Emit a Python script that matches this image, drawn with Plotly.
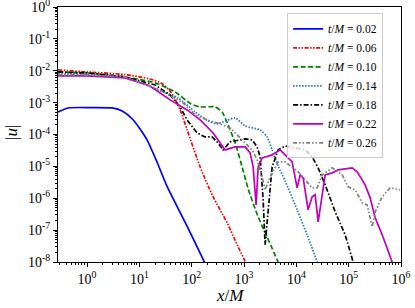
import plotly.graph_objects as go

# ---- data ----
labels = ["0.02", "0.06", "0.10", "0.14", "0.18", "0.22", "0.26"]

x_002 = [0.28, 0.43, 1.14, 3.0, 4.7, 7.6, 14, 22, 34, 53, 82, 127, 180]
y_002 = [5.1e-4, 6.8e-4, 7.0e-4, 6.8e-4, 5.5e-4, 2.9e-4, 6.8e-5, 1.3e-5, 2.3e-6, 5.4e-7, 1.3e-7, 3.0e-8, 9e-9]

x_006 = [0.28, 1, 5.3, 16, 26, 40, 60, 82, 145, 257, 475, 771, 1100]
y_006 = [1.06e-2, 9.2e-3, 7.6e-3, 5.5e-3, 4.15e-3, 2.16e-3, 5.9e-4, 1.39e-4, 9.6e-6, 1.1e-6, 1.7e-7, 3.0e-8, 9e-9]

x_010 = [0.28, 1, 5.3, 20, 48, 97.5, 145, 280, 381, 497, 676, 920, 1201, 1862, 2755, 4487]
y_010 = [9.17e-3, 8.53e-3, 6.39e-3, 4.15e-3, 2.16e-3, 9.1e-4, 7.33e-4, 7.33e-4, 5.11e-4, 2.0e-4, 5.45e-5,
         9.64e-6, 1.97e-6, 2.61e-7, 6.17e-8, 1.0e-8]

x_014 = [0.28, 1, 5.3, 22.8, 55, 116, 206, 306, 676, 1050, 2032, 2755, 3444, 4487, 6109, 10350, 16080, 24990]
y_014 = [7.94e-3, 7.94e-3, 6.39e-3, 2.50e-3, 1.40e-3, 5.11e-4, 2.67e-4, 2.15e-4, 3.31e-4, 1.86e-4, 1.39e-4,
         8.41e-5, 3.29e-5, 1.04e-5, 3.51e-6, 4.33e-7, 7.12e-8, 1.0e-8]

x_018 = [0.28, 1, 5.3, 20, 38.6, 60, 81.7, 127, 180, 245, 320, 398, 542, 1050, 1429, 1780, 2032, 2318,
         2531, 2755, 3444, 4487, 6109, 9484, 14730, 20050, 26120, 35560, 55200, 85700, 121900]
y_018 = [9.17e-3, 8.53e-3, 6.39e-3, 3.59e-3, 1.74e-3, 7.33e-4, 2.87e-4, 1.12e-4, 8.41e-5, 8.41e-5, 5.45e-5,
         3.29e-5, 5.86e-5, 7.28e-5, 6.78e-5, 4.09e-5, 1.99e-5, 8.91e-7, 3.46e-8, 1.69e-7, 9.64e-6, 3.29e-5,
         4.39e-5, 3.80e-5, 3.29e-5, 1.99e-5, 8.97e-6, 2.63e-6, 3.75e-7, 7.12e-8, 1.0e-8]

x_022 = [0.28, 1, 5.3, 16, 38.6, 81.7, 145, 257, 435, 676, 1050, 1309, 1494, 1703, 1862, 2218, 3444, 4898,
         6109, 8318, 10350, 11830, 13490, 16810, 20050, 22870, 26120, 31150, 35560, 48420, 63000, 116700,
         145500, 206600, 257600, 321300, 437100, 678900]
y_022 = [6.87e-3, 6.87e-3, 5.95e-3, 3.34e-3, 1.22e-3, 5.90e-4, 2.87e-4, 1.12e-4, 3.29e-5, 4.09e-5, 4.09e-5,
         2.65e-5, 9.64e-6, 6.21e-7, 9.64e-6, 1.85e-5, 2.29e-5, 3.29e-5, 2.29e-5, 1.38e-5, 2.12e-6, 5.42e-6,
         4.36e-6, 4.33e-7, 1.11e-6, 1.28e-6, 1.82e-7, 1.59e-6, 5.42e-6, 6.25e-6, 7.76e-6, 8.97e-6, 6.73e-6,
         2.63e-6, 1.03e-6, 2.43e-7, 7.12e-8, 1.0e-8]

x_026 = [0.28, 1, 5.3, 22.8, 68.5, 116, 197, 306, 542, 920, 1429, 1780, 2218, 2531, 3155, 4487, 6109, 10820,
         20050, 24990, 31150, 48420, 75100, 97800, 133100, 181300, 225700, 281300, 321300, 437100, 621300, 966000]
y_026 = [7.39e-3, 7.39e-3, 6.39e-3, 2.69e-3, 9.8e-4, 4.11e-4, 2.87e-4, 2.31e-4, 1.61e-4, 6.78e-5, 3.29e-5,
         1.60e-5, 4.69e-6, 1.83e-6, 4.69e-6, 1.38e-5, 1.38e-5, 6.73e-6, 2.12e-6, 2.12e-6, 5.42e-6, 8.97e-6,
         5.42e-6, 2.28e-6, 1.83e-6, 7.18e-7, 6.21e-7, 1.27e-7, 3.75e-7, 1.11e-6, 2.12e-6, 1.83e-6]

x_ticks = [1, 10, 100, 1e3, 1e4, 1e5, 1e6]
x_ticktext = ["10<sup>0</sup>", "10<sup>1</sup>", "10<sup>2</sup>", "10<sup>3</sup>",
              "10<sup>4</sup>", "10<sup>5</sup>", "10<sup>6</sup>"]
y_ticks = [1e-8, 1e-7, 1e-6, 1e-5, 1e-4, 1e-3, 1e-2, 1e-1, 1]
y_ticktext = ["10<sup>-8</sup>", "10<sup>-7</sup>", "10<sup>-6</sup>", "10<sup>-5</sup>", "10<sup>-4</sup>",
              "10<sup>-3</sup>", "10<sup>-2</sup>", "10<sup>-1</sup>", "10<sup>0</sup>"]

# ---- styles ----
series = [
    (x_002, y_002, "#0000ff", "solid", "spline"),
    (x_006, y_006, "#ff0000", "4px,1.5px,1.5px,1.5px,1.5px,1.5px", "spline"),
    (x_010, y_010, "#008000", "5px,2.5px", "spline"),
    (x_014, y_014, "#1f77b4", "1.5px,1.5px", "spline"),
    (x_018, y_018, "#000000", "5px,2px,1.5px,2px", "linear"),
    (x_022, y_022, "#bf00bf", "solid", "linear"),
    (x_026, y_026, "#7f7f7f", "4px,2px,1.5px,2px,1.5px,2px", "linear"),
]

FONT = "Liberation Serif"
fig = go.Figure()
for (xs, ys, col, dash, shape), lab in zip(series, labels):
    fig.add_trace(go.Scatter(
        x=xs, y=ys, mode="lines",
        line=dict(color=col, width=1.7, dash=dash, shape=shape, smoothing=0.6),
        name=f"<i>t</i>/<i>M</i> = {lab}",
    ))

axis_common = dict(
    type="log", showgrid=False, zeroline=False, automargin=False,
    showline=True, linecolor="black", linewidth=1, mirror=True,
    ticks="outside", ticklen=4, tickcolor="black", tickwidth=1,
    ticklabeloverflow="allow",
    tickfont=dict(family=FONT, size=14, color="black"),
    minor=dict(ticks="outside", ticklen=2, tickcolor="black", dtick="D1", showgrid=False),
)

fig.update_xaxes(**axis_common, range=[-0.555, 6], tickmode="array",
                 tickvals=x_ticks, ticktext=x_ticktext)
fig.update_yaxes(**axis_common, range=[-8, 0], tickmode="array",
                 tickvals=y_ticks, ticktext=y_ticktext)

fig.add_annotation(text="<i>x</i>/<i>M</i>", xref="paper", yref="paper",
                   x=0.501, y=-0.13, xanchor="center", yanchor="middle", showarrow=False,
                   font=dict(family=FONT, size=17, color="black"))
fig.add_annotation(text="|<i>u</i>|", xref="paper", yref="paper", textangle=-90,
                   x=-0.134, y=0.506, xanchor="center", yanchor="middle", showarrow=False,
                   font=dict(family=FONT, size=17, color="black"))

fig.update_layout(
    template="none",
    width=415, height=308,
    margin=dict(l=58, r=14, t=7, b=46),
    plot_bgcolor="white", paper_bgcolor="white",
    legend=dict(
        x=0.668, y=0.975, xanchor="left", yanchor="top",
        bgcolor="rgba(255,255,255,0.8)", bordercolor="#cccccc", borderwidth=1,
        font=dict(family=FONT, size=11.5, color="black"),
        itemwidth=30, tracegroupgap=0,
    ),
    showlegend=True,
)

fig.write_html("out.html",
               config={"displayModeBar": False},
               post_script="document.body.style.margin='0';document.body.style.overflow='hidden';")
